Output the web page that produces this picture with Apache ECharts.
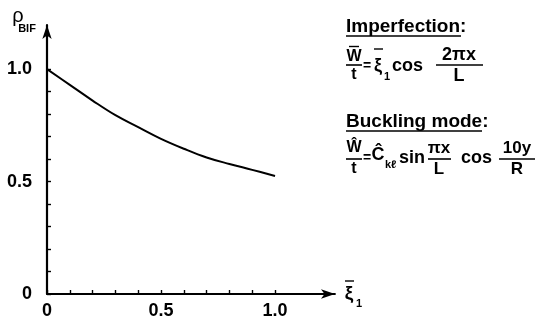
<!DOCTYPE html>
<html>
<head>
<meta charset="utf-8">
<script src="https://cdn.jsdelivr.net/npm/echarts@6/dist/echarts.min.js"></script>
<style>html,body{margin:0;padding:0;background:#fff;}#c{width:541px;height:324px;}</style>
</head>
<body>
<div id="c"></div>
<script>
// Data
const xiValues = [0, 0.1, 0.2, 0.3, 0.4, 0.5, 0.6, 0.7, 0.8, 0.9, 1.0];
const rhoBif = [1.0, 0.93, 0.86, 0.795, 0.742, 0.69, 0.646, 0.607, 0.578, 0.552, 0.525];
const tickValues = [0, 0.1, 0.2, 0.3, 0.4, 0.5, 0.6, 0.7, 0.8, 0.9, 1.0];
const labelValues = [0, 0.5, 1.0];

const FONT = '"Liberation Sans", "DejaVu Sans", sans-serif';
const chart = echarts.init(document.getElementById('c'), null, {renderer: 'canvas'});

function txt(text, x, y, size, align, weight) {
  return {type: 'text', x: x, y: y, silent: true,
    style: {text: text, fill: '#000', font: (weight || 'bold') + ' ' + size + 'px ' + FONT,
      align: align || 'center', verticalAlign: 'middle'}};
}
function ln(x1, y1, x2, y2, w) {
  return {type: 'line', silent: true, shape: {x1: x1, y1: y1, x2: x2, y2: y2},
    style: {stroke: '#000', lineWidth: w || 1.6}};
}

const fmt = v => v === 0 ? '0' : v.toFixed(1);

const option = {
  backgroundColor: '#fff',
  animation: false,
  grid: {left: 47, right: 206, top: 25, bottom: 30, containLabel: false},
  xAxis: {
    type: 'value', min: 0, max: 1.263,
    splitLine: {show: false},
    axisLine: {show: true, symbol: ['none', 'arrow'], symbolSize: [7, 14],
      lineStyle: {color: '#000', width: 1.8}},
    axisTick: {show: true, inside: true, length: 4, customValues: tickValues, lineStyle: {color: '#000', width: 1.4}},
    axisLabel: {customValues: labelValues, formatter: fmt, color: '#000', fontSize: 18, fontWeight: 'bold', fontFamily: FONT, margin: 8}
  },
  yAxis: {
    type: 'value', min: 0, max: 1.196,
    splitLine: {show: false},
    axisLine: {show: true, symbol: ['none', 'arrow'], symbolSize: [7, 14],
      lineStyle: {color: '#000', width: 2.2}},
    axisTick: {show: true, inside: true, length: 4, customValues: tickValues, lineStyle: {color: '#000', width: 1.4}},
    axisLabel: {customValues: labelValues, formatter: fmt, color: '#000', fontSize: 18, fontWeight: 'bold', fontFamily: FONT, margin: 15}
  },
  series: [{
    type: 'line',
    data: xiValues.map((x, i) => [x, rhoBif[i]]),
    smooth: 0.4,
    showSymbol: false,
    lineStyle: {color: '#000', width: 2}
  }],
  graphic: [
    // axis names
    txt('ρ', 18, 16, 20, 'center', 'normal'),
    txt('BIF', 27, 29, 11),
    txt('ξ', 349, 294, 19),
    ln(345, 281, 354, 281, 1.4),
    txt('1', 359, 304, 11),
    // Imperfection block
    txt('Imperfection:', 346, 27, 19, 'left'),
    ln(346, 36, 461, 36),
    txt('W', 354, 57, 16),
    ln(349, 46.5, 359, 46.5, 1.4),
    ln(346, 65, 362, 65),
    txt('t', 354, 75, 16),
    txt('=', 367, 66, 14),
    txt('ξ', 378, 66, 18),
    ln(374, 49, 383, 49, 1.4),
    txt('1', 387, 77, 11),
    txt('cos', 392, 66, 18, 'left'),
    txt('2πx', 459, 55, 18),
    ln(436, 65, 483, 65),
    txt('L', 459, 76, 18),
    // Buckling mode block
    txt('Buckling mode:', 346, 122, 19, 'left'),
    ln(346, 131, 482, 131),
    txt('Ŵ', 354, 148, 16),
    ln(346, 159, 362, 159),
    txt('t', 354, 169, 16),
    txt('=', 367, 158, 14),
    txt('Ĉ', 378, 155, 18),
    txt('kℓ', 385, 165, 11, 'left'),
    txt('sin', 399, 158, 18, 'left'),
    txt('πx', 439, 148, 17),
    ln(428, 159, 451, 159),
    txt('L', 439, 169, 17),
    txt('cos', 461, 158, 18, 'left'),
    txt('10y', 517, 148, 17),
    ln(499, 159, 535, 159),
    txt('R', 517, 169, 17)
  ]
};
chart.setOption(option);
</script>
</body>
</html>
